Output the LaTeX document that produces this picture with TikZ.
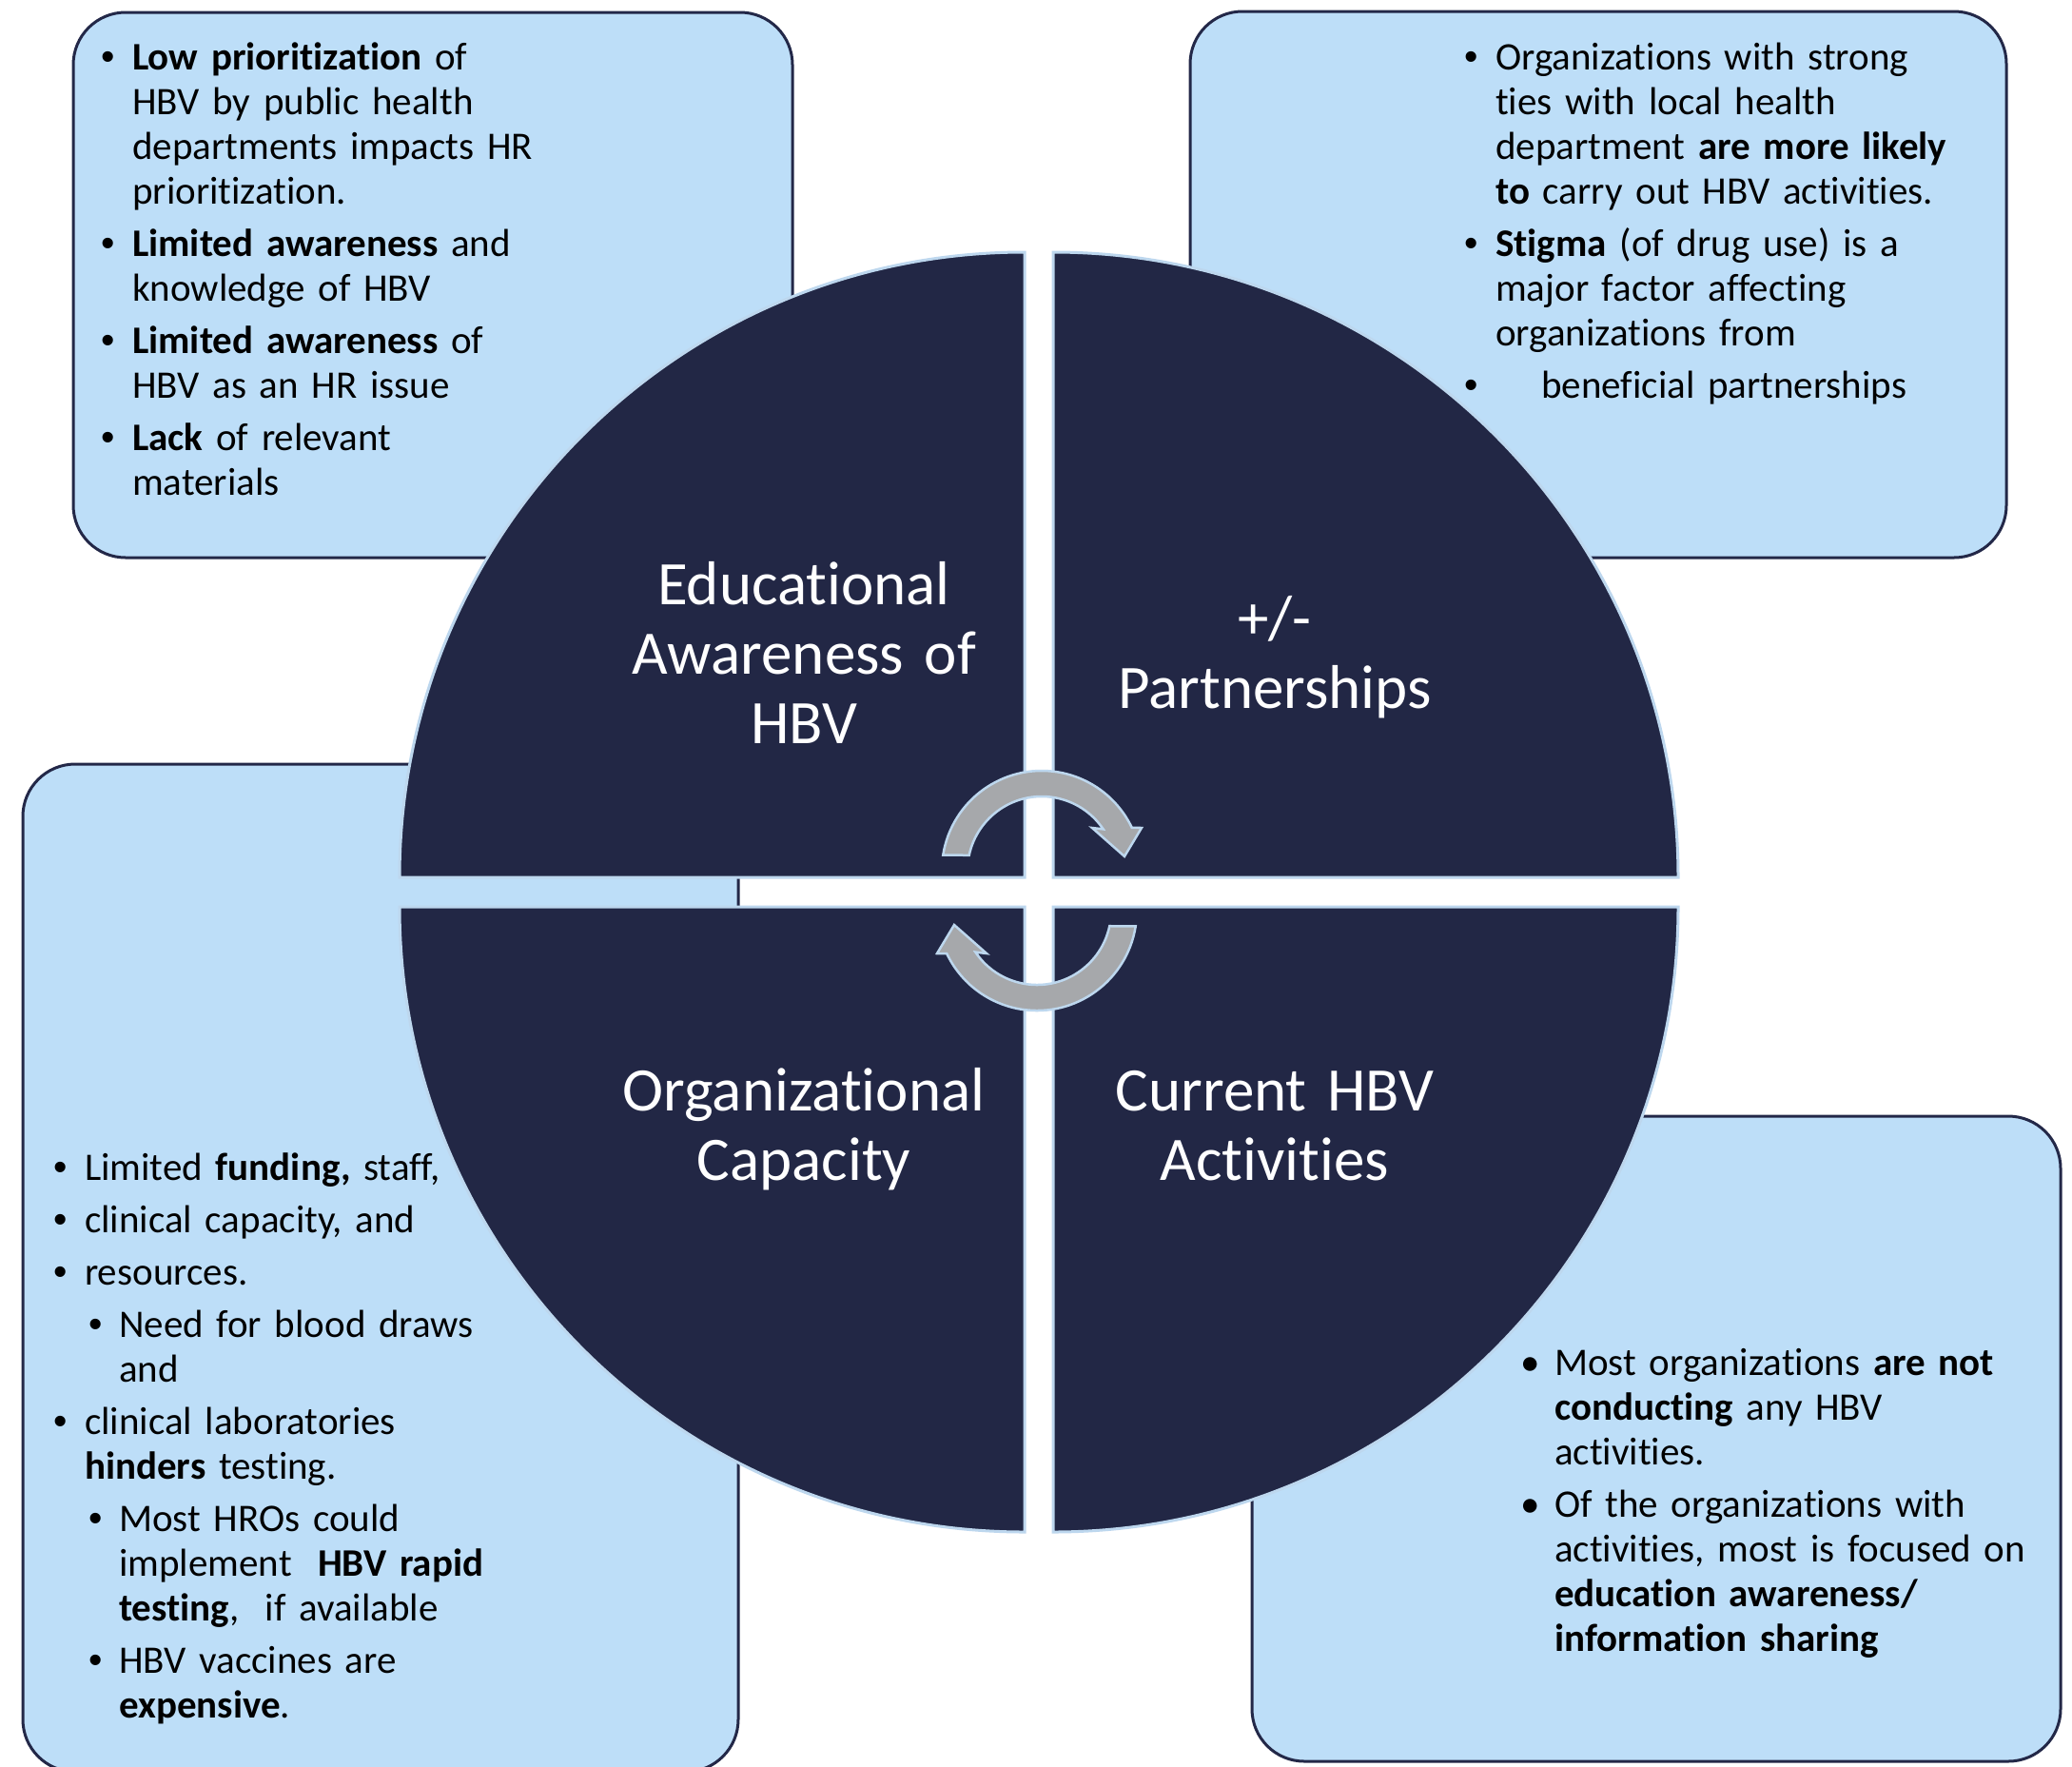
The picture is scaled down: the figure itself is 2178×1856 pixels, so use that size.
\documentclass[tikz,border=0pt]{standalone}
\usepackage{fontspec}
\setmainfont{Carlito}[Ligatures=NoCommon]
\newfontfamily\bulletfont{Liberation Sans}
\usetikzlibrary{calc}
\definecolor{boxfill}{RGB}{189,222,248}
\definecolor{boxline}{RGB}{35,40,72}
\definecolor{navy}{RGB}{34,39,69}
\definecolor{rim}{RGB}{189,215,238}
\definecolor{arrowgray}{RGB}{166,168,171}
\newlength\bhang
\newcommand\bsym{{\bulletfont\char"2022}}
\newcommand\bitem[1]{\hangindent=\bhang\hangafter=1\makebox[\bhang][l]{\bsym}#1\par\vspace{8pt}}
\newcommand\sitem[1]{\hangindent=69pt\hangafter=1\hspace*{37pt}\makebox[32pt][l]{\bsym}#1\par\vspace{8pt}}
\begin{document}
\begin{tikzpicture}[x=1pt,y=-1pt,
  box/.style={draw=boxline,fill=boxfill,line width=3pt,rounded corners=55pt,inner sep=0pt},
  txt/.style={anchor=base west,text width=#1,align=left,inner sep=0pt,font=\fontsize{41}{47}\selectfont},
  ttl/.style={anchor=base,text width=440pt,align=center,inner sep=0pt,text=white,font=\fontsize{65}{73}\selectfont},
  quad/.style={fill=navy,draw=rim,line width=3pt},
  carrow/.style={fill=arrowgray,draw=rim,line width=2.5pt,line join=miter}]
\useasboundingbox (0,0) rectangle (2178,1856);
\fill[white] (0,0) rectangle (2178,1856);
% boxes
\node[box,minimum width=756pt,minimum height=573pt] (btl) at (455,299.5) {};
\node[box,minimum width=858pt,minimum height=574pt] (btr) at (1680,299) {};
\node[box,minimum width=752pt,minimum height=1059pt] (bbl) at (400,1332.5) {};
\node[box,minimum width=850pt,minimum height=678pt] (bbr) at (1741,1512) {};
% box texts
\node[txt=720pt] (ttl1) at (106,73) {\setlength\bhang{33pt}%
\bitem{\textbf{Low prioritization} of\newline HBV by public health\newline departments impacts HR\newline prioritization.}%
\bitem{\textbf{Limited awareness} and\newline knowledge of HBV}%
\bitem{\textbf{Limited awareness} of\newline HBV as an HR issue}%
\bitem{\textbf{Lack} of relevant\newline materials}};
\node[txt=600pt] (ttr1) at (1539,73) {\setlength\bhang{33pt}%
\bitem{Organizations with strong\newline ties with local health\newline department \textbf{are more likely}\newline\textbf{to} carry out HBV activities.}%
\bitem{\textbf{Stigma} (of drug use) is a\newline major factor affecting\newline organizations from}%
\bitem{\hspace*{48pt}beneficial partnerships}};
\node[txt=600pt] (tbr1) at (1598,1445) {\setlength\bhang{36pt}\renewcommand\bsym{\char"2022}%
\bitem{Most organizations \textbf{are not}\newline\textbf{conducting} any HBV\newline activities.}%
\bitem{Of the organizations with\newline activities, most is focused on\newline\textbf{education awareness/}\newline\textbf{information sharing}}};
\node[txt=700pt] (tbl1) at (56,1240) {\setlength\bhang{33pt}%
\bitem{Limited \textbf{funding,} staff,}%
\bitem{clinical capacity, and}%
\bitem{resources.}%
\sitem{Need for blood draws\newline and}%
\bitem{clinical laboratories\newline\textbf{hinders} testing.}%
\sitem{Most HROs could\newline implement\ \ \textbf{HBV rapid}\newline\textbf{testing},\ \ if available}%
\sitem{HBV vaccines are\newline\textbf{expensive}.}};
% quadrants
\path[quad] (1077,922) -- (420,922) arc[start angle=180,end angle=270,radius=657] -- cycle;
\path[quad] (1107,922) -- (1107,265) arc[start angle=270,end angle=360,radius=657] -- cycle;
\path[quad] (1077,953) -- (1077,1610) arc[start angle=90,end angle=180,radius=657] -- cycle;
\path[quad] (1107,953) -- (1764,953) arc[start angle=0,end angle=90,radius=657] -- cycle;
% cycle arrows
\coordinate (ac) at (1095,915);
\coordinate (bc) at (1090,957);
\path[carrow] ($(ac)+(-171:105)$) arc[start angle=-171,end angle=-25.5,radius=105]
  -- (1200,870) -- (1182,900) -- (1148,870) -- ($(ac)+(-34:78)$)
  arc[start angle=-34,end angle=-168,radius=78] -- cycle;
\path[carrow] ($(bc)+(9:105)$) arc[start angle=9,end angle=154.5,radius=105]
  -- (985,1002) -- (1003,972) -- (1037,1002) -- ($(bc)+(146:78)$)
  arc[start angle=146,end angle=12,radius=78] -- cycle;
% titles
\node[ttl] (q1) at (845,635) {Educational\\Awareness of\\HBV};
\node[ttl] (q2) at (1340,671) {+/-\\Partnerships};
\node[ttl] (q3) at (845,1167) {Organizational\\Capacity};
\node[ttl] (q4) at (1340,1167) {Current HBV\\Activities};
\end{tikzpicture}
\end{document}
